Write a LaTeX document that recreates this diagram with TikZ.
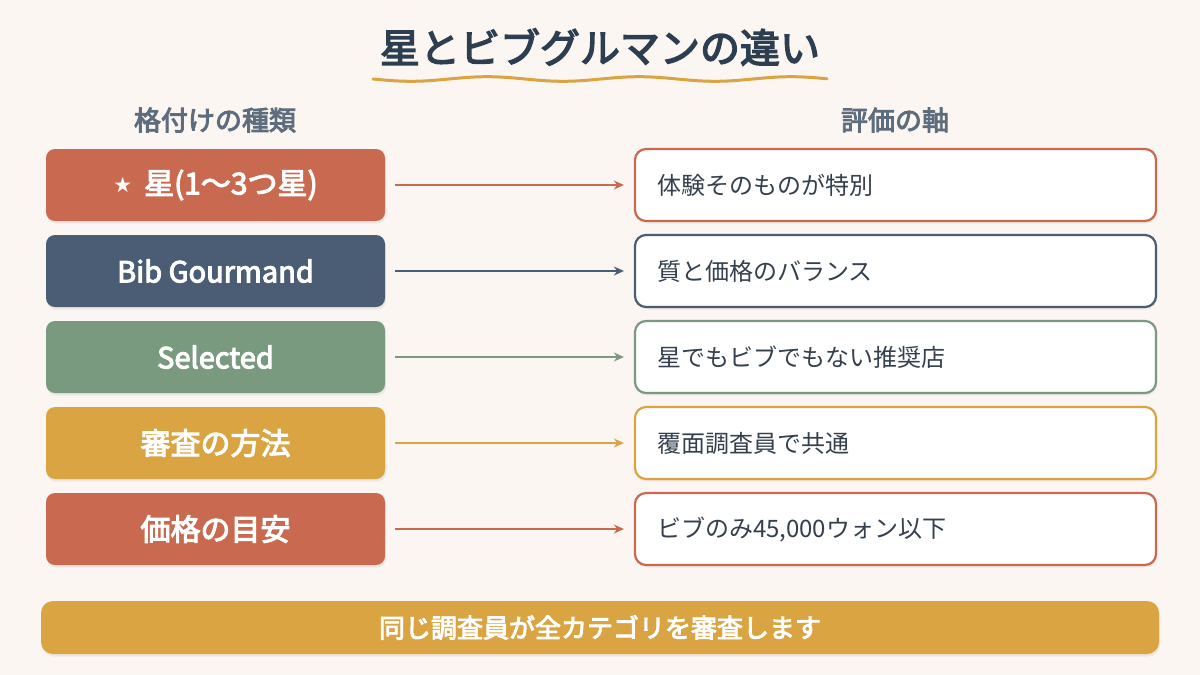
\documentclass[tikz,border=0pt]{standalone}
\usepackage{fontspec}
\setmainfont{Noto Sans CJK JP}
\newfontfamily\medfont[FakeBold=3.5]{Noto Sans CJK JP}
\newfontfamily\symfont{DejaVu Sans}
\usetikzlibrary{shadows,arrows.meta}
\definecolor{bgc}{HTML}{FBF6F1}
\definecolor{terra}{HTML}{C96A50}
\definecolor{navy}{HTML}{4A5D74}
\definecolor{sage}{HTML}{7A9A80}
\definecolor{gold}{HTML}{D9A441}
\definecolor{titlec}{HTML}{2C3E50}
\definecolor{headc}{HTML}{5D6D7E}
\definecolor{bodyc}{HTML}{34404D}
\tikzset{
  leftbox/.style={rounded corners=9pt, minimum width=339pt, minimum height=72pt, inner sep=0pt,
    fill=#1, text=white, font=\medfont\fontsize{30}{34}\selectfont,
    drop shadow={shadow xshift=1pt, shadow yshift=-2.5pt, opacity=0.12}},
  rightbox/.style={rounded corners=11pt, minimum height=72pt, text width=477pt, inner xsep=22pt, inner ysep=0pt,
    align=left, draw=#1, line width=2.2pt, fill=white, text=bodyc, font=\fontsize{24}{28}\selectfont,
    drop shadow={shadow xshift=1pt, shadow yshift=-2.5pt, opacity=0.10}},
  conn/.style={draw=#1, line width=1.8pt, -{Stealth[length=10pt,width=9pt]}, shorten <=10pt, shorten >=10pt},
  header/.style={text=headc, font=\medfont\fontsize{27}{31}\selectfont},
}
\begin{document}
\begin{tikzpicture}[x=1pt,y=-1pt]
\useasboundingbox (0,0) rectangle (1200,675);
\fill[bgc] (0,0) rectangle (1200,675);
\node[text=titlec, font=\medfont\fontsize{40}{46}\selectfont] (title) at (600,47) {星とビブグルマンの違い};
\draw[gold, line width=3pt, line cap=round] plot[domain=0:454, samples=120, smooth] ({373+\x}, {79+2.3*sin(\x*2.3684)});
\node[header] (h1) at (215,120) {格付けの種類};
\node[header] (h2) at (895,120) {評価の軸};
\node[leftbox=terra] (L1) at (215.5,185) {\raisebox{2pt}{\symfont\fontsize{21}{22}\selectfont ★}\hspace{12pt}星(1〜3つ星)};
\node[leftbox=navy, font=\medfont\fontsize{29}{34}\selectfont] (L2) at (215.5,271) {Bib Gourmand};
\node[leftbox=sage, font=\medfont\fontsize{29}{34}\selectfont] (L3) at (215.5,357) {Selected};
\node[leftbox=gold] (L4) at (215.5,443) {審査の方法};
\node[leftbox=terra] (L5) at (215.5,529) {価格の目安};
\node[rightbox=terra] (R1) at (895.5,185) {体験そのものが特別};
\node[rightbox=navy] (R2) at (895.5,271) {質と価格のバランス};
\node[rightbox=sage] (R3) at (895.5,357) {星でもビブでもない推奨店};
\node[rightbox=gold] (R4) at (895.5,443) {覆面調査員で共通};
\node[rightbox=terra] (R5) at (895.5,529) {ビブのみ45,000ウォン以下};
\draw[conn=terra] (L1) -- (R1);
\draw[conn=navy] (L2) -- (R2);
\draw[conn=sage] (L3) -- (R3);
\draw[conn=gold] (L4) -- (R4);
\draw[conn=terra] (L5) -- (R5);
\node[rounded corners=12pt, minimum width=1118pt, minimum height=53pt, inner sep=0pt, fill=gold, text=white,
  font=\medfont\fontsize{26}{30}\selectfont, drop shadow={shadow xshift=1pt, shadow yshift=-2.5pt, opacity=0.12}]
  (banner) at (600,627.5) {同じ調査員が全カテゴリを審査します};
\end{tikzpicture}
\end{document}
